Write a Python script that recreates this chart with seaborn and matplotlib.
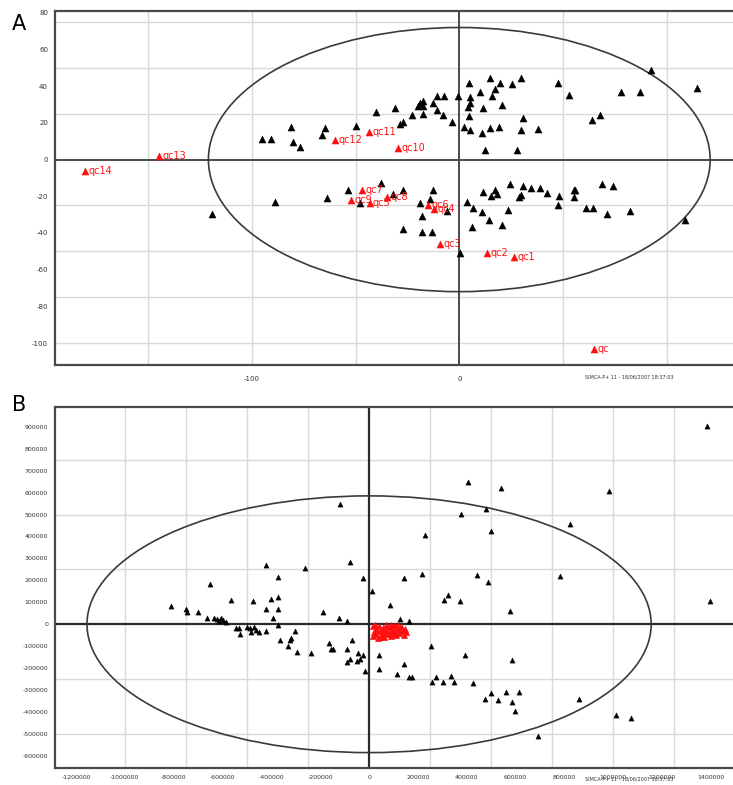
import numpy as np
import pandas as pd
import matplotlib
matplotlib.use("Agg")
import matplotlib.pyplot as plt
from matplotlib.patches import Ellipse
from matplotlib.ticker import MultipleLocator
import seaborn as sns

# ---------------- Panel A data ----------------
a_black_x = [-95, -91, -81, -80, -77, -65, -66, -50, -40, -31, -28.5, -27, -23, -20, -19, -17.5, -17.5, -17.4,
             -12.7, -10.8, -7.6, -10.6, -7.9, -3.4, -0.5,
             4.5, 14.6, 19.8, 17.4, 25.4, 29.8, 47.5, 52.8, 77.8, 87, 92.3, 114.5, 9.8, 5, 5, 4, 4.5,
             15.8, 20.6, 11.4, 2.4, 5.3, 11, 15, 19, 30.8, 29.8, 37.8, 64, 67.8, 12.2, 27.9,
             -119.5, -89, -64, -53.5, -48, -38, -32, -27, -27, -19, -18, -18, -13, -14.3, -12.7, -6, 0.5, 3.7,
             6.4, 11, 6.3, 14.2, 20.6, 23.3, 11.4, 15.3, 17.4, 18.2, 24.6, 28.7, 29.8, 30.8, 34.6, 39, 42.4,
             48, 47.5, 55.3, 56, 55.3, 61.2, 64.6, 69, 74, 71, 82.3, 108.8]
a_black_y = [11, 11, 17.5, 9.4, 7, 17.4, 13.6, 18.5, 26, 28, 19.5, 20.5, 24.5, 29, 31, 32, 29, 25,
             31, 34.4, 34.4, 27, 24.3, 20.6, 34.4,
             42, 44.7, 41.5, 38.4, 41.1, 44.2, 41.8, 35.1, 36.6, 36.6, 49, 39, 37, 34, 31, 28.5, 24,
             34.4, 30, 28, 17.6, 16, 14.5, 17, 17.6, 22.7, 16.3, 16.7, 21.6, 24.5, 5.3, 5.3,
             -29.5, -23, -21, -16.5, -23.7, -12.7, -19, -16.5, -38, -23.7, -31, -39.5, -39.5, -21.4, -16.5, -28, -51, -23,
             -26.5, -28.6, -37, -33, -35.9, -27.4, -17.8, -20, -16.8, -19, -13.2, -20.5, -19.2, -14.5, -15.6, -15.6, -18.1,
             -19.6, -25, -16.8, -16.5, -20.5, -26.3, -26.3, -13.2, -14.5, -29.5, -28, -33]

a_qc_labels = ["qc1", "qc2", "qc3", "qc4", "qc5", "qc6", "qc7", "qc8", "qc9", "qc10", "qc11", "qc12", "qc13", "qc14", "qc"]
a_qc_x = [26.2, 13.4, -9.2, -12.4, -43.3, -15, -47, -35, -52, -29.5, -43.6, -60, -144.8, -180.7, 65]
a_qc_y = [-53, -51, -46, -27, -23.7, -24.5, -16.5, -20.5, -22, 6.3, 14.8, 10.7, 2.2, -6, -103.4]

a_ellipse_rx, a_ellipse_ry = 121, 72
a_xticks = [-150, -100, -50, 0, 50, 100]
a_xticklabels = ["", "-100", "", "0", "", ""]
a_yticks = [-100, -80, -60, -40, -20, 0, 20, 40, 60, 80]
a_grid_x = [-150, -100, -50, 50, 100]
a_grid_y = [-100, -75, -50, -25, 25, 50, 75]

# ---------------- Panel B data (thousands) ----------------
b_black_x = [-653, -422, -373, -261, -118, -78, -26,
             1382, 407, 539, 984, 375, 480, 824, 227, 498, 141, 215, 443, 487, 780,
             1396, 86, 307, 324, 373, 576, 128, 162, 10,
             253, 40, 42, 144, 113, 165, 176, 257, 273, 303, 335, 346, 392, 426, 473, 501, 527, 562, 586, 584, 597,
             613, 693, 858, 1011, 1073,
             -812, -748, -744, -701, -663, -635, -624, -615, -605, -597, -584, -567, -544, -533, -529, -499, -489,
             -483, -472, -465, -452, -424, -476, -422, -401, -374, -374, -393, -374, -366, -333, -325, -320, -302,
             -295, -237, -187, -163, -155, -146, -125, -91, -91, -71, -91, -78, -50, -44, -37, -26, -16]
b_black_y = [185, 268, 215, 256, 547, 282, 210,
             903, 647, 620, 605, 501, 524, 458, 408, 426, 211, 229, 226, 192, 221,
             105, 89, 112, 135, 108, 59, 26, 17, 152,
             -100, -142, -206, -183, -229, -240, -240, -264, -240, -264, -236, -264, -141, -270, -340, -312, -347,
             -309, -164, -355, -397, -309, -509, -342, -415, -429,
             85, 70, 55, 55, 29, 29, 26, 14, 29, 21, 10, 112, -17, -17, -44, -14, -17,
             -36, -14, -27, -36, -32, 105, 70, 117, 123, 71, 29, -2, -73, -97, -73, -62, -29,
             -126, -130, 55, -85, -112, -112, 29, 14, -115, -73, -173, -158, -168, -130, -158, -138, -214]

b_red_x = [15, 20, 18, 28, 30, 35, 40, 45, 48, 55, 58, 62, 68, 70, 75, 80, 85, 88, 95, 98, 102, 108, 112,
           118, 122, 128, 132, 138, 142, 148, 152, 25, 60, 90, 115, 50]
b_red_y = [-10, -35, -55, -20, -45, -62, -8, -30, -50, -15, -40, -58, -5, -25, -45, -12, -35, -55, -20, -42,
           -8, -30, -50, -15, -38, -25, -10, -32, -48, -20, -35, -5, -30, -5, -5, -60]

b_ellipse_rx, b_ellipse_ry = 1155000, 585000
b_xticks = list(range(-1200000, 1400001, 200000))
b_yticks = list(range(-600000, 900001, 100000))
b_grid_x = [-1000000, -750000, -500000, -250000, 250000, 500000, 750000, 1000000, 1250000]
b_grid_y = [-500000, -250000, 250000, 500000, 750000]

# ---------------- Figure ----------------
sns.set_style("white")
plt.rcParams["font.family"] = ["DejaVu Sans"]
plt.rcParams["axes.unicode_minus"] = False

fig = plt.figure(figsize=(7.33, 7.85), dpi=100)
axA = fig.add_axes([0.075, 0.535, 0.925, 0.451])
axB = fig.add_axes([0.075, 0.0217, 0.925, 0.4598])

grid_col = "#d9d9d9"
axis_col = "#4a4a4a"

def style_axes(ax):
    for s in ["left", "top", "bottom"]:
        ax.spines[s].set_color(axis_col)
        ax.spines[s].set_linewidth(1.6)
    ax.spines["right"].set_visible(False)
    ax.tick_params(axis="both", which="both", direction="out", length=3, width=0.8,
                   colors=axis_col, labelsize=5, labelcolor="#333333", pad=2)
    ax.tick_params(axis="both", which="minor", length=2)

# ---- Panel A ----
dfA = pd.DataFrame({"x": a_black_x, "y": a_black_y})
dfAqc = pd.DataFrame({"x": a_qc_x, "y": a_qc_y, "label": a_qc_labels})
axA.set_xlim(-195, 132)
axA.set_ylim(-112, 81)
for gx in a_grid_x:
    axA.axvline(gx, color=grid_col, lw=1.0, zorder=0)
for gy in a_grid_y:
    axA.axhline(gy, color=grid_col, lw=1.0, zorder=0)
axA.axhline(0, color=axis_col, lw=1.4, zorder=1)
axA.axvline(0, color=axis_col, lw=1.4, zorder=1)
axA.add_patch(Ellipse((0, 0), 2 * a_ellipse_rx, 2 * a_ellipse_ry, fill=False,
                      edgecolor="#3a3a3a", lw=1.2, zorder=2))
sns.scatterplot(data=dfA, x="x", y="y", ax=axA, marker="^", color="black", s=26,
                edgecolor="black", linewidth=0.3, zorder=3, legend=False)
sns.scatterplot(data=dfAqc, x="x", y="y", ax=axA, marker="^", color="#ff1010", s=26,
                edgecolor="#ff1010", linewidth=0.3, zorder=4, legend=False)
for _, r in dfAqc.iterrows():
    axA.annotate(r["label"], (r["x"], r["y"]), xytext=(2.5, 0), textcoords="offset points",
                 ha="left", va="center", color="#ff1010", fontsize=7, zorder=5)
axA.set_xticks(a_xticks)
axA.set_xticklabels(a_xticklabels)
axA.set_yticks(a_yticks)
axA.set_yticklabels([str(v) for v in a_yticks])
axA.yaxis.set_minor_locator(MultipleLocator(10))
axA.set_xlabel("")
axA.set_ylabel("")
style_axes(axA)
axA.tick_params(axis="x", labelsize=5, pad=5)

# ---- Panel B ----
dfB = pd.DataFrame({"x": np.array(b_black_x) * 1000, "y": np.array(b_black_y) * 1000})
dfBr = pd.DataFrame({"x": np.array(b_red_x) * 1000, "y": np.array(b_red_y) * 1000})
axB.set_xlim(-1286000, 1490000)
axB.set_ylim(-655000, 990000)
for gx in b_grid_x:
    axB.axvline(gx, color=grid_col, lw=1.0, zorder=0)
for gy in b_grid_y:
    axB.axhline(gy, color=grid_col, lw=1.0, zorder=0)
axB.axhline(0, color="#2a2a2a", lw=1.6, zorder=1)
axB.axvline(0, color="#2a2a2a", lw=1.6, zorder=1)
axB.add_patch(Ellipse((0, 0), 2 * b_ellipse_rx, 2 * b_ellipse_ry, fill=False,
                      edgecolor="#3a3a3a", lw=1.2, zorder=2))
sns.scatterplot(data=dfB, x="x", y="y", ax=axB, marker="^", color="black", s=14,
                edgecolor="black", linewidth=0.3, zorder=3, legend=False)
sns.scatterplot(data=dfBr, x="x", y="y", ax=axB, marker="^", color="#ff1010", s=20,
                edgecolor="#ff1010", linewidth=0.4, zorder=4, legend=False)
axB.set_xticks(b_xticks)
axB.set_xticklabels([str(v) for v in b_xticks])
axB.set_yticks(b_yticks)
axB.set_yticklabels([str(v) for v in b_yticks])
axB.xaxis.set_minor_locator(MultipleLocator(100000))
axB.yaxis.set_minor_locator(MultipleLocator(50000))
axB.set_xlabel("")
axB.set_ylabel("")
style_axes(axB)
axB.tick_params(axis="both", labelsize=4.5)

# ---- Panel letters and footers ----
fig.text(12 / 733, 1 - 24 / 785, "A", fontsize=15, ha="left", va="center", color="black")
fig.text(12 / 733, 1 - 405 / 785, "B", fontsize=15, ha="left", va="center", color="black")
fig.text(585 / 733, 1 - 377 / 785, "SIMCA-P+ 11 - 18/06/2007 18:37:03", fontsize=3.5,
         ha="left", va="center", color="#333333")
fig.text(585 / 733, 1 - 779 / 785, "SIMCA-P+ 11 - 18/06/2007 18:37:03", fontsize=3.5,
         ha="left", va="center", color="#333333")

fig.savefig("out.png", dpi=100, facecolor="white")
